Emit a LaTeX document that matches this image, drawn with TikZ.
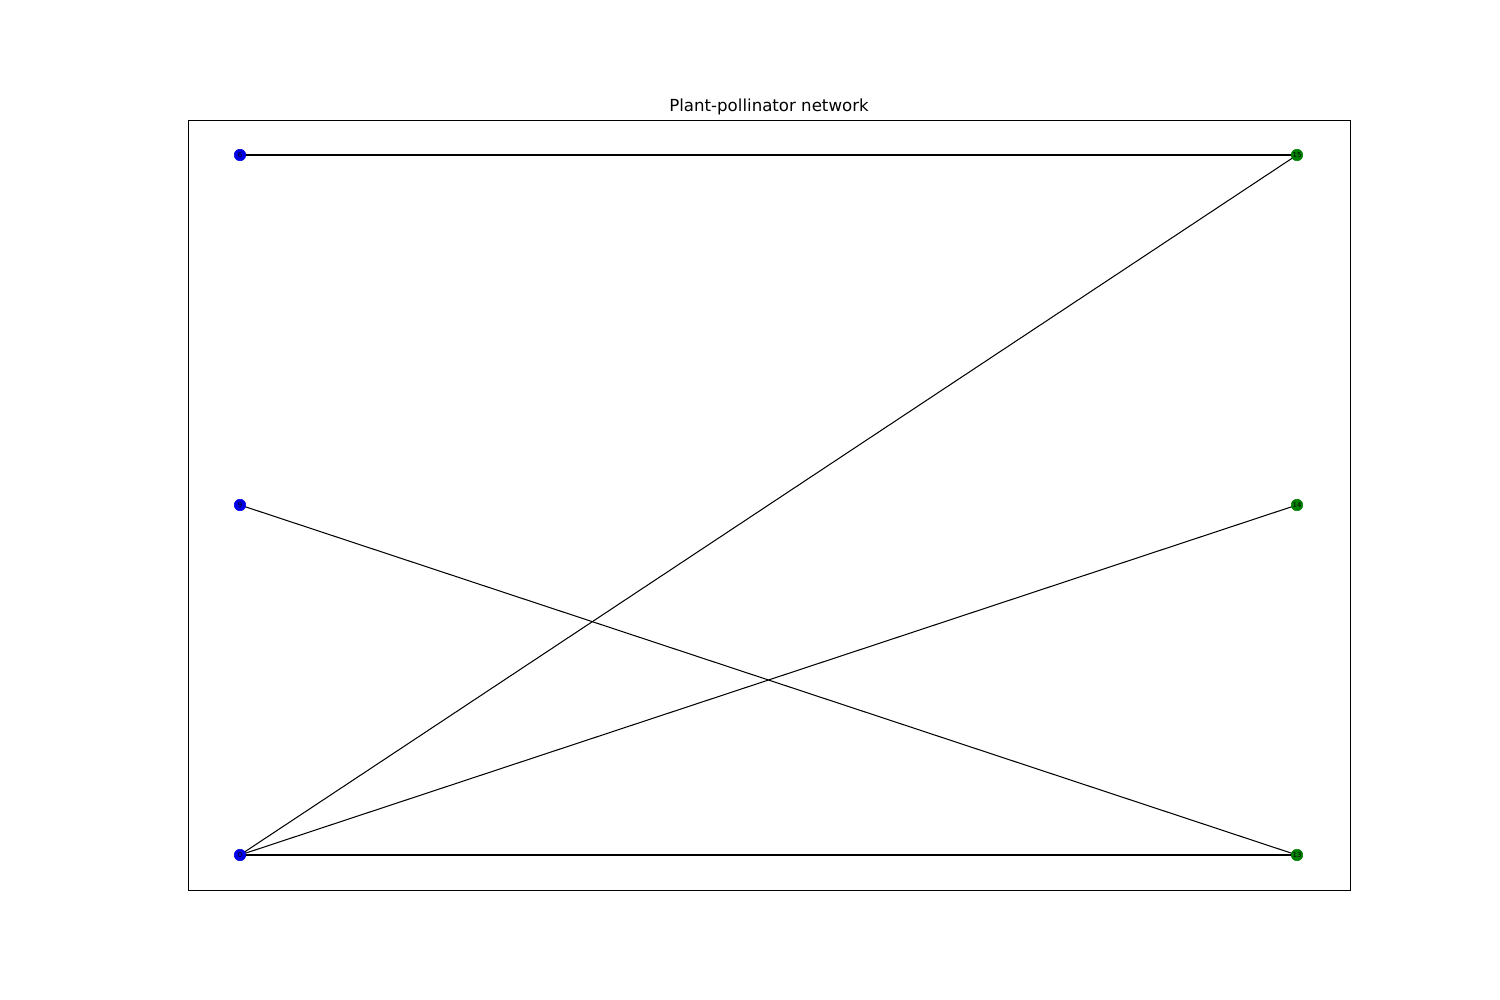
\documentclass[tikz,border=0pt]{standalone}
\usepackage{fontspec}
\setmainfont{DejaVu Sans}
\begin{document}
\begin{tikzpicture}[x=0.01in,y=-0.01in,
  plant/.style={circle,fill={rgb,255:red,0;green,0;blue,230},draw={rgb,255:red,0;green,0;blue,230},inner sep=0pt,minimum size=0.115in,font=\fontsize{5}{5}\selectfont},
  poll/.style={circle,fill={rgb,255:red,0;green,128;blue,0},draw={rgb,255:red,0;green,128;blue,0},inner sep=0pt,minimum size=0.115in,font=\fontsize{5}{5}\selectfont},
  edge/.style={draw=black,line width=0.75pt}]
\useasboundingbox (0,0) rectangle (1500,1000);
\draw[line width=0.6pt] (188,120) rectangle (1350,890);
\node[anchor=base,font=\fontsize{12}{14}\selectfont] (title) at (769,112) {Plant-pollinator network};
\coordinate (p6) at (240,155);
\coordinate (p9) at (240,505);
\coordinate (p0) at (240,855);
\coordinate (q15) at (1297,155);
\coordinate (q14) at (1297,505);
\coordinate (q13) at (1297,855);
\draw[edge] (p6) -- (q15);
\draw[edge] (p0) -- (q15);
\draw[edge] (p9) -- (q13);
\draw[edge] (p0) -- (q14);
\draw[edge] (p0) -- (q13);
\node[plant] (n6) at (p6) {6};
\node[plant] (n9) at (p9) {9};
\node[plant] (n0) at (p0) {0};
\node[poll] (n15) at (q15) {15};
\node[poll] (n14) at (q14) {14};
\node[poll] (n13) at (q13) {13};
\end{tikzpicture}
\end{document}
